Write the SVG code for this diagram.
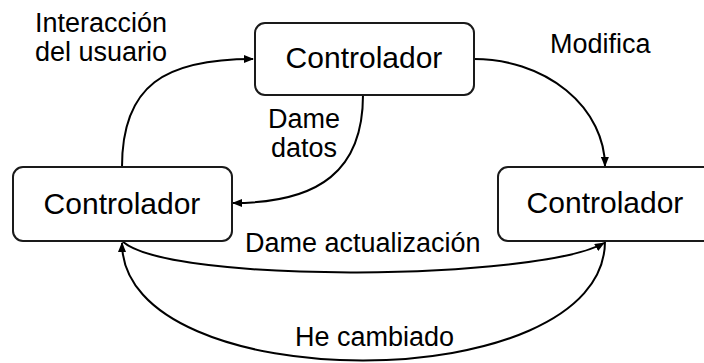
<svg xmlns="http://www.w3.org/2000/svg" width="704" height="363" viewBox="0 0 704 363">
<style>
.box{fill:#fff;stroke:#1a1a1a;stroke-width:2}
.nt{font-family:"Liberation Sans",Arial,sans-serif;font-size:30px;fill:#000;text-anchor:middle}
.lb{font-family:"Liberation Sans",Arial,sans-serif;font-size:27px;fill:#000}
.c{fill:none;stroke:#000;stroke-width:2}
</style>
<defs>
<marker id="ah" viewBox="0 0 10 8" refX="9" refY="4" markerWidth="10" markerHeight="8" orient="auto" markerUnits="userSpaceOnUse">
<path d="M0,0 L10,4 L0,8 z" fill="#000"/>
</marker>
</defs>
<rect width="704" height="363" fill="#fff"/>
<g id="connectors">
<path class="c" d="M122,167 C122,85 165,59 253,59" marker-end="url(#ah)"/>
<path class="c" d="M474,59 A131,108 0 0 1 605,166" marker-end="url(#ah)"/>
<path class="c" d="M363,95 C363,170 320,203 233,203" marker-end="url(#ah)"/>
<path class="c" d="M122,241 C170,285 540,280 604,243" marker-end="url(#ah)"/>
<path class="c" d="M605,241 C605,400 122,400 122,243" marker-end="url(#ah)"/>
</g>
<g id="labels">
<text class="lb" x="35" y="32">Interacción</text>
<text class="lb" x="35" y="61">del usuario</text>
<text class="lb" x="304" y="128" text-anchor="middle">Dame</text>
<text class="lb" x="304" y="157" text-anchor="middle">datos</text>
<text class="lb" x="550" y="53">Modifica</text>
<text class="lb" x="245" y="252">Dame actualización</text>
<text class="lb" x="295" y="346">He cambiado</text>
</g>
<g id="node-top">
<rect class="box" x="255" y="23" width="219" height="72" rx="10"/>
<text class="nt" x="364" y="68">Controlador</text>
</g>
<g id="node-left">
<rect class="box" x="13" y="167" width="219" height="74" rx="10"/>
<text class="nt" x="122" y="214">Controlador</text>
</g>
<g id="node-right">
<rect class="box" x="498" y="167" width="220" height="74" rx="10"/>
<text class="nt" x="605" y="213">Controlador</text>
</g>
</svg>
